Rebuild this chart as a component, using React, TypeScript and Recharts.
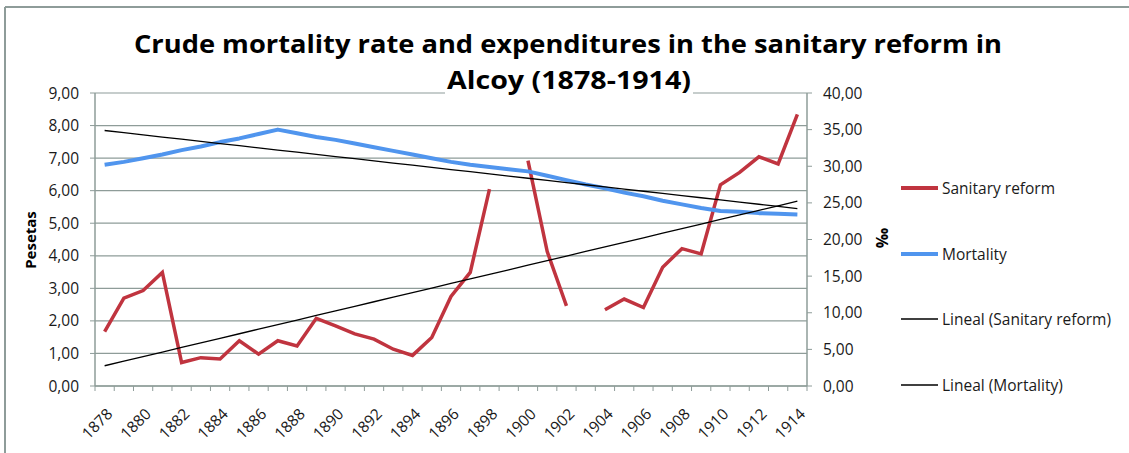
import React from "react";
import {
  ComposedChart,
  Line,
  XAxis,
  YAxis,
  CartesianGrid,
} from "recharts";

const years = [
  1878, 1879, 1880, 1881, 1882, 1883, 1884, 1885, 1886, 1887, 1888, 1889, 1890,
  1891, 1892, 1893, 1894, 1895, 1896, 1897, 1898, 1899, 1900, 1901, 1902, 1903,
  1904, 1905, 1906, 1907, 1908, 1909, 1910, 1911, 1912, 1913, 1914,
];

// pesetas, blanks where the source has no value
const sanitaryReform: (number | null)[] = [
  1.67, 2.7, 2.93, 3.49, 0.72, 0.87, 0.83, 1.39, 0.98, 1.39, 1.23, 2.08, 1.85,
  1.6, 1.44, 1.13, 0.94, 1.49, 2.75, 3.49, 6.05, null, 6.92, 4.13, 2.46, null,
  2.34, 2.67, 2.41, 3.65, 4.22, 4.06, 6.18, 6.56, 7.04, 6.82, 8.34,
];

// crude mortality rate, per mille
const mortality = [
  30.2, 30.6, 31.1, 31.6, 32.2, 32.7, 33.3, 33.8, 34.4, 35.0, 34.5, 34.0, 33.6,
  33.1, 32.6, 32.1, 31.6, 31.1, 30.6, 30.2, 29.9, 29.6, 29.3, 28.7, 28.1, 27.5,
  27.0, 26.4, 25.9, 25.3, 24.8, 24.3, 23.9, 23.8, 23.6, 23.5, 23.4,
];

const xTickLabels = [
  1878, 1880, 1882, 1884, 1886, 1888, 1890, 1892, 1894, 1896, 1898, 1900, 1902,
  1904, 1906, 1908, 1910, 1912, 1914,
];
const leftTicks = [0, 1, 2, 3, 4, 5, 6, 7, 8, 9];
const rightTicks = [0, 5, 10, 15, 20, 25, 30, 35, 40];

const RED = "#C0343F";
const BLUE = "#5095EE";
const GRID = "#8E9C99";
const FONT = "'Open Sans', sans-serif";

const W = 1129;
const H = 453;
const PLOT_L = 95;
const PLOT_R = 807;
const PLOT_T = 93;
const PLOT_B = 386;
const BAND = (PLOT_R - PLOT_L) / years.length;

// excel style linear trendline (least squares over category positions, blanks skipped)
function trend(values: (number | null)[]) {
  const pts = values
    .map((v, i) => [i, v] as [number, number | null])
    .filter((p) => p[1] !== null) as [number, number][];
  const n = pts.length;
  const mx = pts.reduce((s, p) => s + p[0], 0) / n;
  const my = pts.reduce((s, p) => s + p[1], 0) / n;
  let sxy = 0;
  let sxx = 0;
  pts.forEach(([x, y]) => {
    sxy += (x - mx) * (y - my);
    sxx += (x - mx) * (x - mx);
  });
  const b = sxy / sxx;
  const a = my - b * mx;
  return values.map((_, i) => a + b * i);
}

const trendSanitary = trend(sanitaryReform);
const trendMortality = trend(mortality);

const data = years.map((y, i) => ({
  year: y,
  sanitary: sanitaryReform[i],
  mortality: mortality[i],
  trendSanitary: trendSanitary[i],
  trendMortality: trendMortality[i],
}));

const fmt = (v: number) => v.toFixed(2).replace(".", ",");

const XTick = (props: any) => {
  const { x, payload, index } = props;
  const year = payload.value;
  return (
    <g>
      <line x1={x - BAND / 2} x2={x - BAND / 2} y1={PLOT_B} y2={PLOT_B + 5} stroke={GRID} />
      {index === years.length - 1 && (
        <line x1={x + BAND / 2} x2={x + BAND / 2} y1={PLOT_B} y2={PLOT_B + 5} stroke={GRID} />
      )}
      {xTickLabels.includes(year) && (
        <text
          transform={`translate(${x + 9},${PLOT_B + 29}) rotate(-45)`}
          textAnchor="end"
          fontSize={15.5}
          fontFamily={FONT}
          fill="#1a1a1a"
        >
          {year}
        </text>
      )}
    </g>
  );
};

const legendItems = [
  { label: "Sanitary reform", color: RED, width: 4, y: 188 },
  { label: "Mortality", color: BLUE, width: 4, y: 254 },
  { label: "Lineal (Sanitary reform)", color: "#000", width: 1.3, y: 319 },
  { label: "Lineal (Mortality)", color: "#000", width: 1.3, y: 385 },
];

export default function App() {
  return (
    <div style={{ position: "absolute", left: 0, top: 0, width: W, height: H, background: "#fff" }}>
      <ComposedChart
        width={W}
        height={H}
        data={data}
        margin={{ top: PLOT_T, right: W - PLOT_R - 60, bottom: H - PLOT_B - 50, left: PLOT_L - 60 }}
      >
        <CartesianGrid yAxisId="left" vertical={false} stroke={GRID} strokeWidth={1.2} />
        <XAxis
          dataKey="year"
          scale="band"
          interval={0}
          height={50}
          axisLine={{ stroke: GRID, strokeWidth: 1.5 }}
          tickLine={false}
          tickSize={0}
          tickMargin={0}
          tick={<XTick />}
        />
        <YAxis
          yAxisId="left"
          width={60}
          domain={[0, 9]}
          ticks={leftTicks}
          tickFormatter={fmt}
          axisLine={{ stroke: GRID, strokeWidth: 1.5 }}
          tickLine={{ stroke: GRID }}
          tickSize={5}
          tickMargin={11}
          tick={{ fontSize: 15.5, fontFamily: FONT, fill: "#1a1a1a" }}
        />
        <YAxis
          yAxisId="right"
          orientation="right"
          width={60}
          domain={[0, 40]}
          ticks={rightTicks}
          tickFormatter={fmt}
          axisLine={{ stroke: GRID, strokeWidth: 1.5 }}
          tickLine={{ stroke: GRID }}
          tickSize={5}
          tickMargin={11}
          tick={{ fontSize: 15.5, fontFamily: FONT, fill: "#1a1a1a", textAnchor: "start" }}
        />
        <Line
          yAxisId="left"
          dataKey="sanitary"
          stroke={RED}
          strokeWidth={3.5}
          dot={false}
          connectNulls={false}
          isAnimationActive={false}
        />
        <Line
          yAxisId="right"
          dataKey="mortality"
          stroke={BLUE}
          strokeWidth={4}
          strokeLinejoin="round"
          dot={false}
          isAnimationActive={false}
        />
        <Line
          yAxisId="left"
          dataKey="trendSanitary"
          stroke="#000"
          strokeWidth={1.3}
          dot={false}
          isAnimationActive={false}
        />
        <Line
          yAxisId="right"
          dataKey="trendMortality"
          stroke="#000"
          strokeWidth={1.3}
          dot={false}
          isAnimationActive={false}
        />
      </ComposedChart>

      <svg
        width={W}
        height={H}
        style={{ position: "absolute", left: 0, top: 0, pointerEvents: "none" }}
      >
        {/* chart frame, only the top and left edges are in view */}
        <line x1={5} x2={W} y1={7} y2={7} stroke={GRID} strokeWidth={2} />
        <line x1={5} x2={5} y1={7} y2={H} stroke={GRID} strokeWidth={2} />

        <text
          x={568}
          y={53}
          textAnchor="middle"
          fontFamily={FONT}
          fontWeight={700}
          fontSize={25}
          textLength={868}
          lengthAdjust="spacingAndGlyphs"
          fill="#000"
        >
          Crude mortality rate and expenditures in the sanitary reform in
        </text>
        <rect x={445} y={86} width={248} height={10} fill="#fff" />
        <text
          x={569}
          y={89}
          textAnchor="middle"
          fontFamily={FONT}
          fontWeight={700}
          fontSize={25}
          textLength={244}
          lengthAdjust="spacingAndGlyphs"
          fill="#000"
        >
          Alcoy (1878-1914)
        </text>

        <text
          transform="translate(30,240) rotate(-90)"
          textAnchor="middle"
          dominantBaseline="central"
          fontFamily={FONT}
          fontWeight={700}
          fontSize={15}
          fill="#000"
        >
          Pesetas
        </text>
        <text
          transform="translate(882,238) rotate(-90)"
          textAnchor="middle"
          dominantBaseline="central"
          fontFamily={FONT}
          fontWeight={700}
          fontSize={16}
          fill="#000"
        >
          ‰
        </text>

        {legendItems.map((it) => (
          <g key={it.label}>
            <line x1={901} x2={938} y1={it.y} y2={it.y} stroke={it.color} strokeWidth={it.width} />
            <text
              x={942}
              y={it.y}
              dominantBaseline="central"
              fontFamily={FONT}
              fontSize={15.5}
              fill="#1a1a1a"
            >
              {it.label}
            </text>
          </g>
        ))}
      </svg>
    </div>
  );
}
